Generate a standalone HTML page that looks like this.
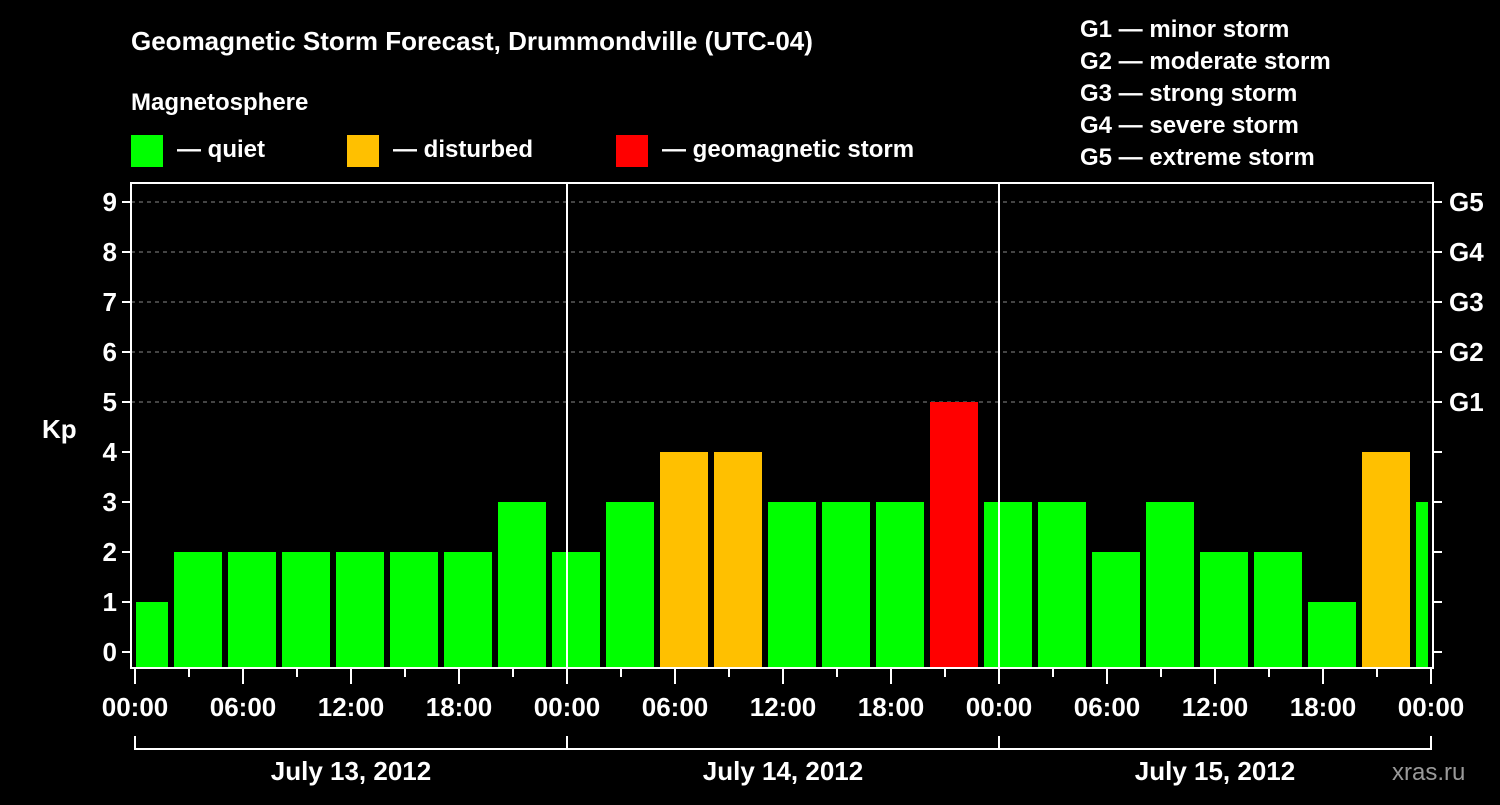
<!DOCTYPE html>
<html><head><meta charset="utf-8"><style>
body{margin:0;background:#000;}
svg text{font-family:"Liberation Sans",Arial,sans-serif;font-weight:bold;fill:#fff;}
</style></head><body>
<svg width="1500" height="800" viewBox="0 0 1500 800">
<rect width="1500" height="800" fill="#000"/>
<text x="131" y="50" font-size="26">Geomagnetic Storm Forecast, Drummondville (UTC-04)</text>
<text x="131" y="110" font-size="24">Magnetosphere</text>
<g><rect x="131" y="135" width="32" height="32" fill="#00ff00"/><text x="177" y="157" font-size="24">— quiet</text></g>
<g><rect x="347" y="135" width="32" height="32" fill="#ffc000"/><text x="393" y="157" font-size="24">— disturbed</text></g>
<g><rect x="616" y="135" width="32" height="32" fill="#ff0000"/><text x="662" y="157" font-size="24">— geomagnetic storm</text></g>
<g font-size="24">
<text x="1080" y="37">G1 — minor storm</text><text x="1080" y="69">G2 — moderate storm</text><text x="1080" y="101">G3 — strong storm</text><text x="1080" y="133">G4 — severe storm</text><text x="1080" y="165">G5 — extreme storm</text>
</g>
<text x="42" y="438" font-size="26">Kp</text>
<text x="1392" y="780" font-size="24" fill="#888" style="fill:#999;font-weight:normal">xras.ru</text>
<g id="grid"></g><g id="bars"></g><g id="axes"></g>
</svg>
<script>
const kpValues=[1,2,2,2,2,2,2,3,2,3,4,4,3,3,3,5,3,3,2,3,2,2,1,4,3];
const yTicks=[0,1,2,3,4,5,6,7,8,9];
const gLabels=["G1","G2","G3","G4","G5"];
const hourLabels=["00:00","06:00","12:00","18:00","00:00","06:00","12:00","18:00","00:00","06:00","12:00","18:00","00:00"];
const dayLabels=["July 13, 2012","July 14, 2012","July 15, 2012"];
const NS="http://www.w3.org/2000/svg";
const L=131,R=1433,T=183,B=668,X0=135,PXH=18;
const y=v=>652-v*50;
const xh=h=>X0+h*PXH;
function mk(p,tag,a){const e=document.createElementNS(NS,tag);for(const k in a)e.setAttribute(k,a[k]);document.getElementById(p).appendChild(e);return e;}
yTicks.forEach(v=>{
 if(v>=5){const e=mk('grid','line',{x1:L,x2:R,y1:y(v),y2:y(v),stroke:'#888','stroke-dasharray':'4,4','stroke-width':1});
 }
 const t=mk('axes','line',{x1:L-9,x2:L,y1:y(v),y2:y(v),stroke:'#fff','stroke-width':2});
 
 const t2=mk('axes','line',{x1:R,x2:R+9,y1:y(v),y2:y(v),stroke:'#fff','stroke-width':2});
 
 const lb=mk('axes','text',{x:L-14,y:y(v)+9,'font-size':26,'text-anchor':'end'});lb.textContent=v;
 
});
gLabels.forEach((g,i)=>{const lb=mk('axes','text',{x:R+16,y:y(5+i)+9,'font-size':26});lb.textContent=g;
 });
kpValues.forEach((v,i)=>{
 const c=X0+9+54*i;let x1=c-24,x2=c+24;x1=Math.max(x1,L+5);x2=Math.min(x2,R-5);
 const col=v>=5?'#ff0000':v>=4?'#ffc000':'#00ff00';
 const r=mk('bars','rect',{x:x1,y:y(v),width:x2-x1,height:B-y(v),fill:col});
 
});
[1,2].forEach(d=>{const e=mk('axes','line',{x1:xh(24*d),x2:xh(24*d),y1:T,y2:B,stroke:'#fff','stroke-width':2});
 });
const fr=mk('axes','rect',{x:L,y:T,width:R-L,height:B-T,fill:'none',stroke:'#fff','stroke-width':2});

for(let h=0;h<=72;h+=3){const maj=h%6===0;const e=mk('axes','line',{x1:xh(h),x2:xh(h),y1:B,y2:B+(maj?16:9),stroke:'#fff','stroke-width':2});
 }
hourLabels.forEach((s,i)=>{const lb=mk('axes','text',{x:xh(i*6),y:716,'font-size':26,'text-anchor':'middle'});lb.textContent=s;
 });
dayLabels.forEach((s,i)=>{
 const p=mk('axes','path',{d:`M${xh(24*i)},736 V749 H${xh(24*i+24)} V736`,fill:'none',stroke:'#fff','stroke-width':2});
 
 const lb=mk('axes','text',{x:xh(24*i+12),y:780,'font-size':26,'text-anchor':'middle'});lb.textContent=s;
 });
</script>
</body></html>
